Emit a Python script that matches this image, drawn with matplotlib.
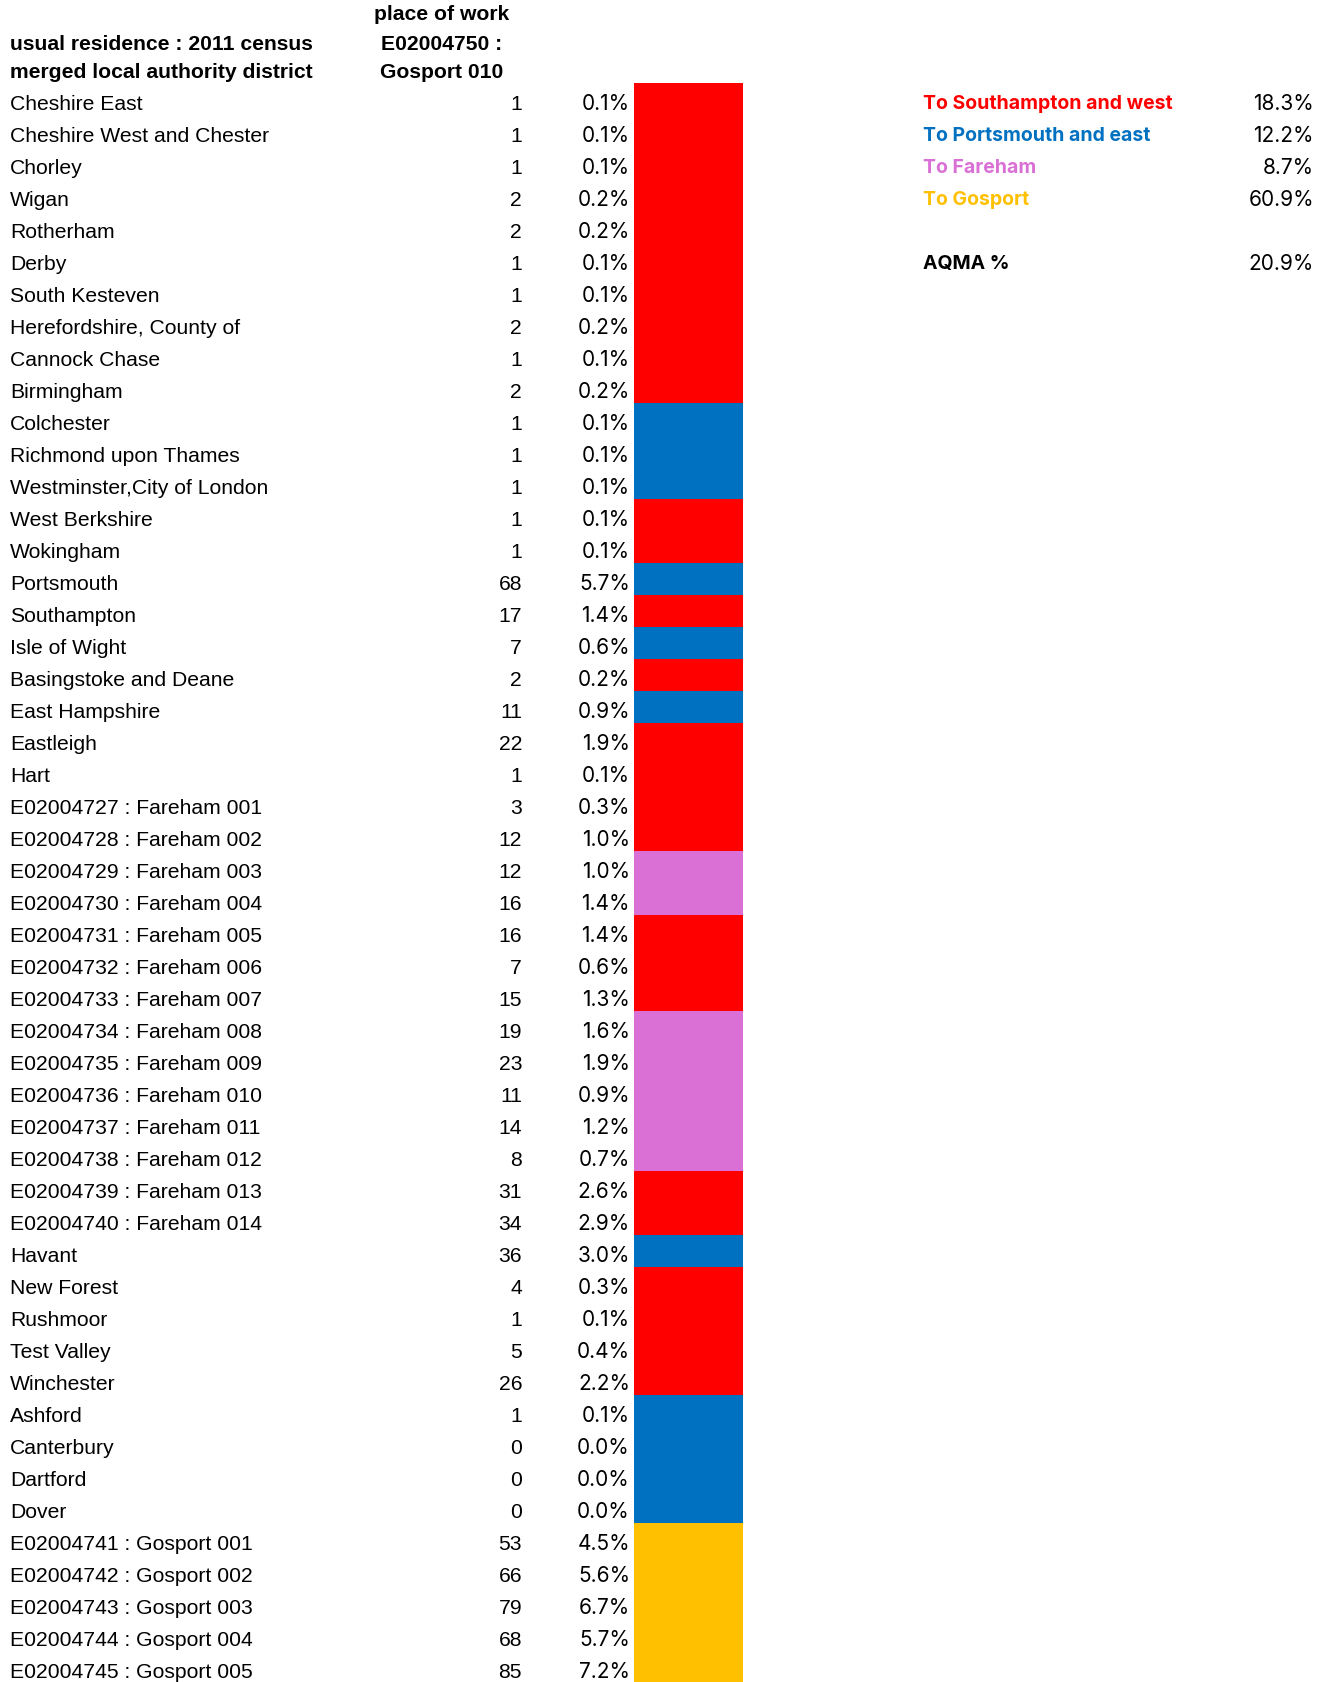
import numpy as np
import matplotlib
matplotlib.use("Agg")
import matplotlib.pyplot as plt

# ---------------------------------------------------------------- data
districts = [
    "Cheshire East", "Cheshire West and Chester", "Chorley", "Wigan", "Rotherham",
    "Derby", "South Kesteven", "Herefordshire, County of", "Cannock Chase", "Birmingham",
    "Colchester", "Richmond upon Thames", "Westminster,City of London", "West Berkshire",
    "Wokingham", "Portsmouth", "Southampton", "Isle of Wight", "Basingstoke and Deane",
    "East Hampshire", "Eastleigh", "Hart",
    "E02004727 : Fareham 001", "E02004728 : Fareham 002", "E02004729 : Fareham 003",
    "E02004730 : Fareham 004", "E02004731 : Fareham 005", "E02004732 : Fareham 006",
    "E02004733 : Fareham 007", "E02004734 : Fareham 008", "E02004735 : Fareham 009",
    "E02004736 : Fareham 010", "E02004737 : Fareham 011", "E02004738 : Fareham 012",
    "E02004739 : Fareham 013", "E02004740 : Fareham 014",
    "Havant", "New Forest", "Rushmoor", "Test Valley", "Winchester",
    "Ashford", "Canterbury", "Dartford", "Dover",
    "E02004741 : Gosport 001", "E02004742 : Gosport 002", "E02004743 : Gosport 003",
    "E02004744 : Gosport 004", "E02004745 : Gosport 005",
]
counts = [1, 1, 1, 2, 2, 1, 1, 2, 1, 2,
          1, 1, 1, 1, 1, 68, 17, 7, 2, 11,
          22, 1, 3, 12, 12, 16, 16, 7, 15, 19,
          23, 11, 14, 8, 31, 34, 36, 4, 1, 5,
          26, 1, 0, 0, 0, 53, 66, 79, 68, 85]
shares = ["0.1%", "0.1%", "0.1%", "0.2%", "0.2%", "0.1%", "0.1%", "0.2%", "0.1%", "0.2%",
          "0.1%", "0.1%", "0.1%", "0.1%", "0.1%", "5.7%", "1.4%", "0.6%", "0.2%", "0.9%",
          "1.9%", "0.1%", "0.3%", "1.0%", "1.0%", "1.4%", "1.4%", "0.6%", "1.3%", "1.6%",
          "1.9%", "0.9%", "1.2%", "0.7%", "2.6%", "2.9%", "3.0%", "0.3%", "0.1%", "0.4%",
          "2.2%", "0.1%", "0.0%", "0.0%", "0.0%", "4.5%", "5.6%", "6.7%", "5.7%", "7.2%"]
# S = Southampton and west, P = Portsmouth and east, F = Fareham, G = Gosport
direction = list("SSSSSSSSSS" + "PPP" + "SS" + "P" + "S" + "P" + "S" + "P" +
                 "SSSS" + "FF" + "SSS" + "FFFFF" + "SS" + "P" + "SSSS" + "PPPP" + "GGGGG")

summary_labels = ["To Southampton and west", "To Portsmouth and east", "To Fareham", "To Gosport"]
summary_keys = ["S", "P", "F", "G"]
summary_values = ["18.3%", "12.2%", "8.7%", "60.9%"]
aqma_label = "AQMA %"
aqma_value = "20.9%"

colours = {"S": "#FF0000", "P": "#0070C0", "F": "#DA70D6", "G": "#FFC000"}

# ---------------------------------------------------------------- layout
W, H = 1330, 1683
row_h = 32.0
top_row = 100.0          # pixel centre of first data row
fig = plt.figure(figsize=(W / 100, H / 100), dpi=100)
ax = fig.add_axes([0, 0, 1, 1])
ax.set_xlim(0, W)
ax.set_ylim((H - top_row) / row_h, -top_row / row_h)
ax.axis("off")

tfont = "Liberation Sans"
pfont = "Inter"
fs = 15.2
dy = 0.13                # text sits a little low in its cell

rows = np.arange(len(districts))
ax.barh(rows, 109, left=634, height=1.0, color=[colours[d] for d in direction],
        linewidth=0)

for r, name, c, s in zip(rows, districts, counts, shares):
    ax.text(10, r + dy, name, ha="left", va="center", fontsize=fs, family=tfont)
    ax.text(522, r + dy, str(c), ha="right", va="center", fontsize=fs, family=tfont)
    ax.text(630, r + dy, s, ha="right", va="center", fontsize=15.0, family=pfont)

# header
hdr = dict(fontsize=fs, family=tfont, weight="bold", va="center")
ax.text(442, (14 - top_row) / row_h, "place of work", ha="center", **hdr)
ax.text(10, (45 - top_row) / row_h, "usual residence : 2011 census", ha="left", **hdr)
ax.text(10, (72 - top_row) / row_h, "merged local authority district", ha="left", **hdr)
ax.text(442, (45 - top_row) / row_h, "E02004750 :", ha="center", **hdr)
ax.text(442, (72 - top_row) / row_h, "Gosport 010", ha="center", **hdr)

# summary block on the right
for i, (lab, k, v) in enumerate(zip(summary_labels, summary_keys, summary_values)):
    ax.text(923, i + dy, lab, ha="left", va="center", fontsize=14.0, family=pfont,
            weight="bold", color=colours[k])
    ax.text(1314, i + dy, v, ha="right", va="center", fontsize=15.0, family=pfont)
ax.text(923, 5 + dy, aqma_label, ha="left", va="center", fontsize=14.0, family=pfont,
        weight="bold")
ax.text(1314, 5 + dy, aqma_value, ha="right", va="center", fontsize=15.0, family=pfont)

fig.savefig("out.png", dpi=100, facecolor="white")
